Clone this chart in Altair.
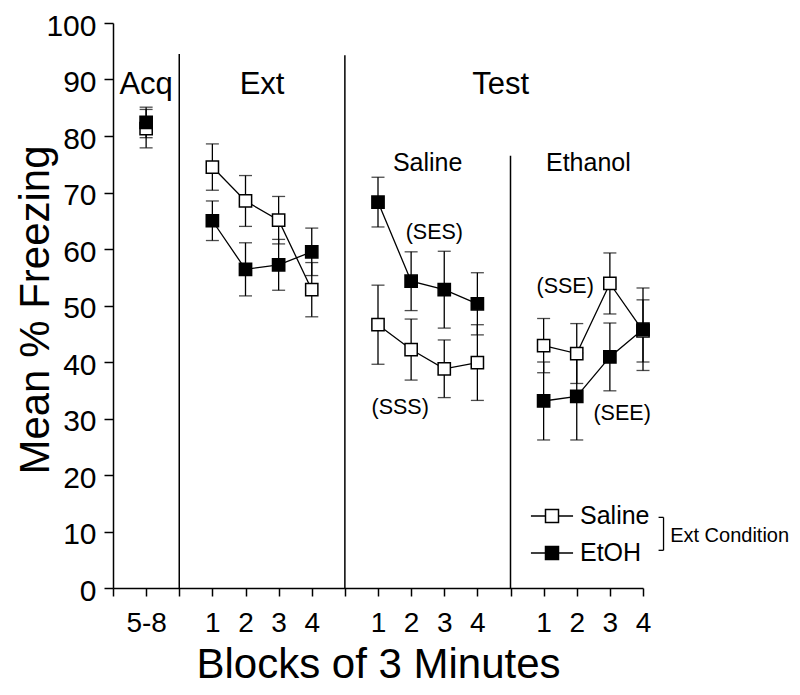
import json
import altair as alt
import pandas as pd

FONT = "Liberation Sans"

# ---- data ----
groups = ["Saline", "EtOH"]
sections = ["Acq", "Ext", "TestSaline", "TestEthanol"]
positions = {"Acq": [1], "Ext": [3, 4, 5, 6], "TestSaline": [8, 9, 10, 11], "TestEthanol": [13, 14, 15, 16]}

saline_acq = [81.3]
saline_acq_err = [3.4]
saline_ext = [74.5, 68.5, 65.1, 52.8]
saline_ext_err = [4.1, 4.5, 4.2, 4.8]
saline_test_sal = [46.6, 42.2, 38.8, 39.9]
saline_test_sal_err = [7.0, 5.4, 5.1, 6.7]
saline_test_eth = [42.9, 41.5, 53.9, 45.5]
saline_test_eth_err = [4.8, 5.3, 5.4, 5.5]

etoh_acq = [82.4]
etoh_acq_err = [2.7]
etoh_ext = [65.0, 56.4, 57.2, 59.5]
etoh_ext_err = [3.5, 4.7, 4.5, 4.2]
etoh_test_sal = [68.3, 54.3, 52.8, 50.3]
etoh_test_sal_err = [4.4, 5.2, 6.8, 5.5]
etoh_test_eth = [33.1, 33.9, 40.9, 45.8]
etoh_test_eth_err = [6.9, 7.7, 6.0, 7.3]

tick_values = list(range(0, 17))
tick_labels = ["", "5-8", "", "1", "2", "3", "4", "", "1", "2", "3", "4", "", "1", "2", "3", "4"]
y_ticks = list(range(0, 101, 10))

separator_x = [2, 7, 12]
separator_top = [94.5, 94.3, 76.5]

ann_text = ["Acq", "Ext", "Test", "Saline", "Ethanol", "(SES)", "(SSS)", "(SSE)", "(SEE)"]
ann_x = [1.0, 4.5, 11.7, 9.5, 14.35, 9.7, 8.67, 13.65, 15.37]
ann_y = [87.5, 87.5, 87.5, 73.8, 73.8, 61.8, 30.8, 52.3, 29.8]
ann_size = [31, 31, 31, 25, 25, 21.5, 21.5, 21.5, 21.5]

legend_note = ["Ext Condition"]
legend_note_x = [16.82]
legend_note_y = [8.18]
bracket_x = [16.47, 16.62]
bracket_y = [12.5, 6.67]

# ---- tables ----
series = {
    "Saline": [(saline_acq, saline_acq_err), (saline_ext, saline_ext_err),
               (saline_test_sal, saline_test_sal_err), (saline_test_eth, saline_test_eth_err)],
    "EtOH": [(etoh_acq, etoh_acq_err), (etoh_ext, etoh_ext_err),
             (etoh_test_sal, etoh_test_sal_err), (etoh_test_eth, etoh_test_eth_err)],
}
rows = []
for g in groups:
    for sec, (vals, errs) in zip(sections, series[g]):
        for xp, v, e in zip(positions[sec], vals, errs):
            rows.append({"group": g, "seg": g + "-" + sec, "x": xp, "y": v,
                         "lo": v - e, "hi": v + e})
df = pd.DataFrame(rows)
caps = pd.concat([df.assign(cap=df["lo"]), df.assign(cap=df["hi"])])[["x", "cap", "group"]]

sep_df = pd.DataFrame({"x": separator_x, "y": [0] * len(separator_x), "y2": separator_top})
ann_df = pd.DataFrame({"text": ann_text, "x": ann_x, "y": ann_y, "size": ann_size})
note_df = pd.DataFrame({"text": legend_note, "x": legend_note_x, "y": legend_note_y})
br_df = pd.DataFrame({
    "x": [bracket_x[1], bracket_x[0], bracket_x[0]],
    "x2": [bracket_x[1], bracket_x[1], bracket_x[1]],
    "y": [bracket_y[0], bracket_y[0], bracket_y[1]],
    "y2": [bracket_y[1], bracket_y[0], bracket_y[1]],
})

# ---- scales / axes ----
PLOT_W, PLOT_H = 530, 565
xscale = alt.Scale(domain=[0, 16], nice=False, zero=False)
yscale = alt.Scale(domain=[0, 100], nice=False, zero=False)
xaxis = alt.Axis(
    values=tick_values, labelExpr=json.dumps(tick_labels) + "[datum.value]",
    title="Blocks of 3 Minutes", titleFontSize=42, titlePadding=7,
    labelFontSize=28, labelPadding=13, tickSize=8, labelFlush=False, labelOverlap=False,
    grid=False,
)
yaxis = alt.Axis(
    values=y_ticks, title="Mean % Freezing", titleFontSize=42,
    titleBaseline="alphabetic", titleAngle=270, titleX=-65, titleY=PLOT_H / 2 + 4,
    labelFontSize=30, labelPadding=8, tickSize=9, labelOffset=3, labelOverlap=False, grid=False,
)


def X(field="x"):
    return alt.X(field, type="quantitative", scale=xscale, axis=xaxis)


def Y(field="y"):
    return alt.Y(field, type="quantitative", scale=yscale, axis=yaxis)


fill_scale = alt.Scale(domain=groups, range=["white", "black"])
symbol_path = "M-1.62,0H-0.5M0.5,0H1.62M-0.5,-0.5H0.5V0.5H-0.5Z"

separators = alt.Chart(sep_df).mark_rule(color="black", strokeWidth=1.5).encode(
    x=X(), y=Y(), y2="y2:Q")

err_rules = alt.Chart(df).mark_rule(color="black", strokeWidth=1.3).encode(
    x=X(), y=Y("lo"), y2="hi:Q")

err_caps = alt.Chart(caps).mark_tick(color="black", orient="horizontal", size=13, thickness=1.3).encode(
    x=X(), y=Y("cap"))

lines = alt.Chart(df).mark_line(color="black", strokeWidth=1.3).encode(
    x=X(), y=Y(), detail="seg:N", order="x:Q")

points = alt.Chart(df).mark_point(
    shape="square", filled=True, size=150, stroke="black", strokeWidth=1.5, opacity=1
).encode(
    x=X(), y=Y(),
    fill=alt.Fill("group:N", scale=fill_scale, legend=alt.Legend(
        orient="none", legendX=425, legendY=479, title=None,
        symbolType=symbol_path, symbolSize=676, symbolStrokeWidth=1.5,
        symbolStrokeColor="black",
        labelFont=FONT, labelFontSize=25, labelColor="black", labelOffset=14,
        rowPadding=10,
    )),
)

ann = alt.Chart(ann_df).mark_text(color="black", font=FONT, baseline="alphabetic", align="center").encode(
    x=X(), y=Y(), text="text:N", size=alt.Size("size:Q", scale=None, legend=None))

note = alt.Chart(note_df).mark_text(color="black", font=FONT, fontSize=20, baseline="alphabetic",
                                    align="left").encode(x=X(), y=Y(), text="text:N")

bracket = alt.Chart(br_df).mark_rule(color="black", strokeWidth=1.3).encode(
    x=X(), x2="x2:Q", y=Y(), y2="y2:Q")

chart = alt.layer(separators, err_rules, err_caps, lines, points, ann, note, bracket).properties(
    width=PLOT_W, height=PLOT_H,
    autosize=alt.AutoSizeParams(type="none"),
    padding={"left": 105, "top": 15, "right": 149, "bottom": 99},
).configure(
    font=FONT,
).configure_axis(
    domainColor="black", domainWidth=1.5, tickColor="black", tickWidth=1.5,
    labelColor="black", titleColor="black", labelFont=FONT, titleFont=FONT,
    titleFontWeight="normal",
).configure_view(stroke=None)

chart.save("out.html", embed_options={"renderer": "svg", "actions": False})
